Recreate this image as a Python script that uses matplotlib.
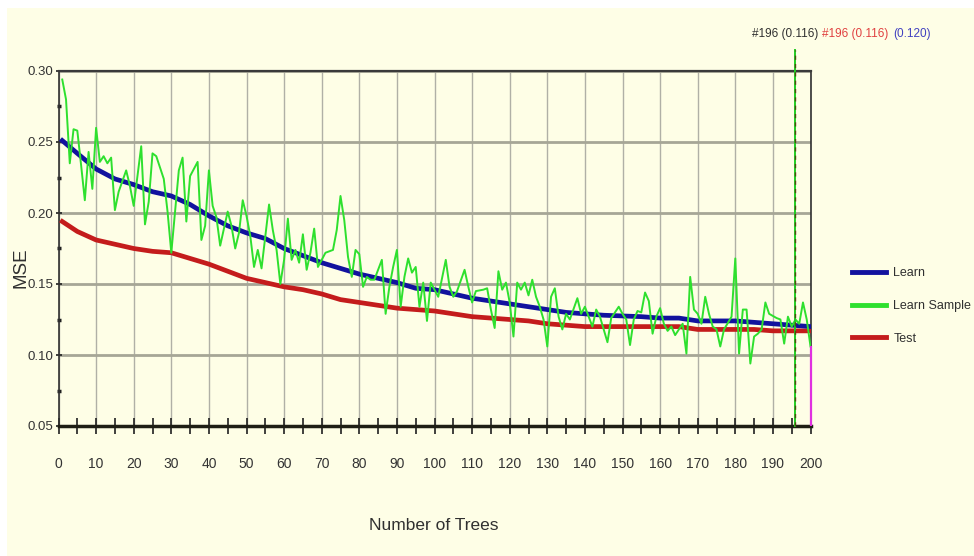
import matplotlib
matplotlib.use('Agg')
import matplotlib.pyplot as plt
from matplotlib import font_manager
from matplotlib.ticker import MultipleLocator, FormatStrFormatter
from matplotlib.lines import Line2D
from matplotlib.patches import Rectangle

# Learn Sample (green, noisy)
green_trees = [1, 2, 3, 4, 5, 6, 7, 8, 9, 10,
               11, 12, 13, 14, 15, 16, 18, 19, 20, 22,
               23, 24, 25, 26, 28, 29, 30, 32, 33, 34,
               35, 37, 38, 39, 40, 41, 42, 43, 45, 46,
               47, 48, 49, 50, 51, 52, 53, 54, 56, 57,
               58, 59, 60, 61, 62, 63, 64, 65, 66, 67,
               68, 69, 70, 71, 73, 74, 75, 76, 77, 78,
               79, 80, 81, 82, 83, 84, 86, 87, 88, 89,
               90, 91, 92, 93, 94, 95, 96, 97, 98, 99,
               100, 101, 103, 104, 105, 106, 108, 109, 110, 111,
               113, 114, 115, 116, 117, 118, 119, 120, 121, 122,
               123, 124, 125, 126, 127, 128, 129, 130, 131, 132,
               133, 134, 135, 136, 138, 139, 140, 142, 143, 144,
               146, 147, 149, 150, 151, 152, 153, 154, 155, 156,
               157, 158, 159, 160, 161, 162, 163, 164, 166, 167,
               168, 169, 170, 171, 172, 173, 174, 175, 176, 177,
               179, 180, 181, 182, 183, 184, 185, 186, 187, 188,
               189, 191, 192, 193, 194, 195, 196, 197, 198, 199,
               200]
green_mse = [0.294, 0.280, 0.235, 0.259, 0.258, 0.234, 0.209, 0.243, 0.217, 0.260,
             0.236, 0.240, 0.235, 0.239, 0.202, 0.215, 0.230, 0.219, 0.205, 0.247,
             0.192, 0.208, 0.242, 0.240, 0.224, 0.201, 0.172, 0.230, 0.239, 0.194,
             0.226, 0.236, 0.181, 0.191, 0.230, 0.205, 0.197, 0.177, 0.201, 0.191,
             0.175, 0.186, 0.209, 0.198, 0.184, 0.162, 0.174, 0.161, 0.206, 0.188,
             0.174, 0.150, 0.167, 0.196, 0.167, 0.174, 0.165, 0.185, 0.160, 0.172,
             0.189, 0.162, 0.167, 0.172, 0.174, 0.188, 0.212, 0.195, 0.169, 0.155,
             0.174, 0.171, 0.148, 0.155, 0.153, 0.153, 0.167, 0.129, 0.148, 0.162,
             0.174, 0.134, 0.155, 0.168, 0.158, 0.162, 0.134, 0.151, 0.124, 0.151,
             0.146, 0.141, 0.167, 0.148, 0.141, 0.145, 0.160, 0.148, 0.137, 0.145,
             0.146, 0.147, 0.132, 0.119, 0.159, 0.146, 0.151, 0.137, 0.113, 0.151,
             0.146, 0.151, 0.142, 0.153, 0.141, 0.134, 0.125, 0.106, 0.141, 0.147,
             0.127, 0.118, 0.129, 0.125, 0.140, 0.129, 0.134, 0.120, 0.132, 0.127,
             0.109, 0.126, 0.134, 0.129, 0.125, 0.107, 0.125, 0.131, 0.130, 0.144,
             0.138, 0.115, 0.127, 0.133, 0.122, 0.117, 0.120, 0.114, 0.122, 0.101,
             0.155, 0.132, 0.129, 0.122, 0.141, 0.129, 0.120, 0.118, 0.106, 0.118,
             0.127, 0.168, 0.101, 0.132, 0.132, 0.094, 0.113, 0.115, 0.118, 0.137,
             0.129, 0.126, 0.125, 0.108, 0.127, 0.120, 0.125, 0.122, 0.137, 0.125,
             0.106]

# Learn and Test
step_trees = [1, 5, 10, 15, 20, 25, 30, 35, 40, 45, 50, 55, 60, 65, 70, 75, 80,
              85, 90, 95, 100, 105, 110, 115, 120, 125, 130, 135, 140, 145, 150,
              155, 160, 165, 170, 175, 180, 185, 190, 195, 200]
learn_mse = [0.251, 0.242, 0.231, 0.224, 0.220, 0.215, 0.212, 0.206, 0.198, 0.191,
             0.186, 0.182, 0.175, 0.170, 0.165, 0.161, 0.157, 0.154, 0.151, 0.147,
             0.146, 0.143, 0.140, 0.138, 0.136, 0.134, 0.132, 0.130, 0.129, 0.128,
             0.1275, 0.127, 0.126, 0.126, 0.124, 0.124, 0.124, 0.123, 0.122, 0.121,
             0.120]
test_mse = [0.194, 0.187, 0.181, 0.178, 0.175, 0.173, 0.172, 0.168, 0.164, 0.159,
            0.154, 0.151, 0.148, 0.146, 0.143, 0.139, 0.137, 0.135, 0.133, 0.132,
            0.131, 0.129, 0.127, 0.126, 0.125, 0.124, 0.122, 0.121, 0.120, 0.120,
            0.120, 0.120, 0.120, 0.120, 0.118, 0.118, 0.118, 0.118, 0.117, 0.117,
            0.117]

series_names = ['Learn', 'Learn Sample', 'Test']
best_tree = 196
marker_texts = ['#196 (0.116)', '#196 (0.116)', '(0.120)']
marker_colors = ['#303030', '#e04040', '#4040c0']

cream = '#fefee6'
c_learn = '#12129e'
c_sample = '#2ee02e'
c_test = '#c41c1c'

names = {f.name for f in font_manager.fontManager.ttflist}
narrow = 'Liberation Sans'
for cand in ['Liberation Sans Narrow', 'DejaVu Sans Condensed']:
    if cand in names:
        narrow = cand
        break
plt.rcParams['font.family'] = [narrow, 'DejaVu Sans']

fig = plt.figure(figsize=(9.74, 5.56), dpi=100, facecolor='white')
fig.patches.append(Rectangle((7/974, 0), 1, 548/556, transform=fig.transFigure,
                             facecolor=cream, edgecolor='none', zorder=-10))

ax = fig.add_axes([58.5/974, 130/556, 752/974, 355/556])
ax.set_facecolor(cream)
ax.set_xlim(0, 200)
ax.set_ylim(0.05, 0.30)

# grid
ax.grid(axis='x', which='major', color='#b0b0a6', lw=1.0, zorder=0)
ax.grid(axis='y', which='major', color='#a6a696', lw=2.0, zorder=0)
ax.set_axisbelow(True)

# ticks
ax.xaxis.set_major_locator(MultipleLocator(10))
ax.xaxis.set_minor_locator(MultipleLocator(5))
ax.yaxis.set_major_locator(MultipleLocator(0.05))
ax.yaxis.set_minor_locator(MultipleLocator(0.025))
ax.yaxis.set_major_formatter(FormatStrFormatter('%.2f'))
ax.tick_params(axis='x', which='both', direction='inout', length=11, width=1.2,
               color='#202020')
ax.tick_params(axis='x', which='major', labelsize=10, pad=17, labelcolor='#333333')
ax.tick_params(axis='y', which='major', direction='inout', length=5, width=1.2,
               color='#202020', pad=1, labelsize=9.5, labelcolor='#333333')
ax.tick_params(axis='y', which='minor', direction='inout', length=3, width=2.5,
               color='#202020')

for side in ['left', 'right']:
    ax.spines[side].set_color('#303030')
    ax.spines[side].set_linewidth(1.2)
ax.spines['bottom'].set_color('#1e1e14')
ax.spines['bottom'].set_linewidth(2.5)
ax.spines['top'].set_color('#3a3a3a')
ax.spines['top'].set_linewidth(1.6)

# curves
ax.plot(step_trees, test_mse, color=c_test, lw=3.4, zorder=3)
ax.plot(step_trees, learn_mse, color=c_learn, lw=3.4, zorder=4)
ax.plot(green_trees, green_mse, color=c_sample, lw=1.4, zorder=5)

# marker line at best tree
tr = ax.get_xaxis_transform()
ax.plot([best_tree, best_tree], [0, 1.059], transform=tr, color='#22cc22', lw=1.4,
        clip_on=False, zorder=6)
ax.plot([best_tree, best_tree], [0, 1.059], transform=tr, color='#4d4d10', lw=1.0,
        dashes=(3, 3), clip_on=False, zorder=7)
ax.vlines(200, 0.05, green_mse[-1], colors='#e030e0', lw=1.6, zorder=6, clip_on=False)

# marker readout on top, pieces laid side by side
fig.canvas.draw()
rend = fig.canvas.get_renderer()
x_px = 752
for txt, col in zip(marker_texts, marker_colors):
    t = fig.text(x_px/974, 1 - 34/556, txt, color=col, fontsize=8.5,
                 ha='left', va='center')
    x_px += t.get_window_extent(rend).width + 4

fig.text(21/974, 1 - 268/556, 'MSE', rotation=90, fontsize=13.5, color='#303030',
         family=['Liberation Sans', 'DejaVu Sans'], ha='center', va='center')
fig.text(434/974, 1 - 526/556, 'Number of Trees', fontsize=12.5, color='#303030',
         ha='center', va='center')

handles = [Line2D([], [], color=c_learn, lw=3.5),
           Line2D([], [], color=c_sample, lw=3.5),
           Line2D([], [], color=c_test, lw=3.5)]
fig.legend(handles, series_names, loc='center left',
           bbox_to_anchor=(852/974, 1 - 306/556), frameon=False, fontsize=9,
           handlelength=2.7, handletextpad=0.6, labelspacing=1.65,
           borderpad=0, borderaxespad=0, labelcolor='#303030')

fig.savefig('out.png', dpi=100, facecolor=fig.get_facecolor())
